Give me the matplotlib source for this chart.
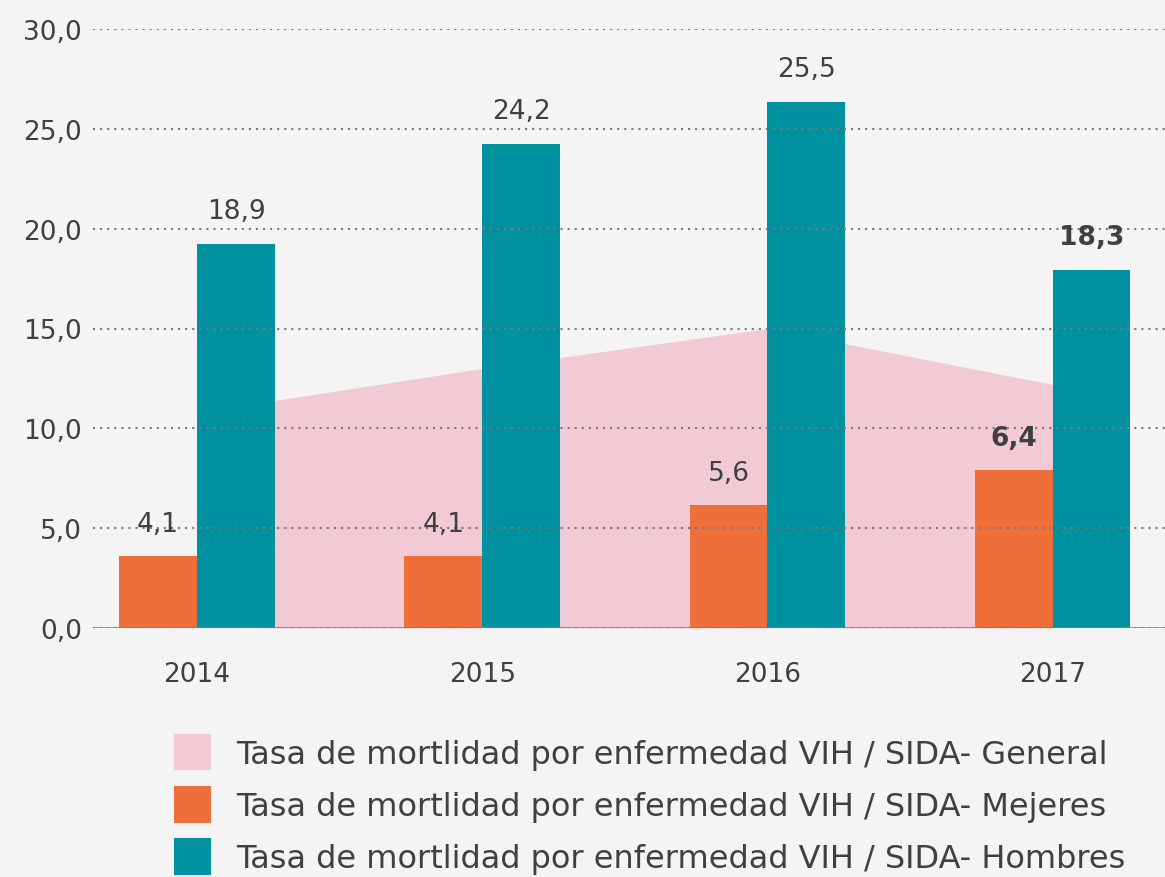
import matplotlib
matplotlib.use("Agg")
import matplotlib.pyplot as plt
from matplotlib.patches import Patch
import numpy as np

# ----------------------------
# Data
# ----------------------------
years = ["2014", "2015", "2016", "2017"]
general = [10.8, 13.0, 15.0, 12.2]          # pink area
mujeres = [3.6, 3.6, 6.15, 7.9]             # orange bars (as drawn)
hombres = [19.25, 24.25, 26.35, 17.95]      # teal bars (as drawn)
mujeres_labels = ["4,1", "4,1", "5,6", "6,4"]
hombres_labels = ["18,9", "24,2", "25,5", "18,3"]
bold_labels = [False, False, False, True]
legend_labels = [
    "Tasa de mortlidad por enfermedad VIH / SIDA- General",
    "Tasa de mortlidad por enfermedad VIH / SIDA- Mejeres",
    "Tasa de mortlidad por enfermedad VIH / SIDA- Hombres",
]
y_ticks = [0, 5, 10, 15, 20, 25, 30]

# ----------------------------
# Look
# ----------------------------
W, H = 1165, 878
BG = "#f4f4f4"
PINK = "#f2cad3"
ORANGE = "#ee6f3a"
TEAL = "#0091a0"
TEXT = "#404040"
GRID = "#7a7a7a"
BAR_W = 0.273
FONT = "DejaVu Sans"

plt.rcParams["font.family"] = [FONT]

fig = plt.figure(figsize=(W / 100, H / 100), dpi=100, facecolor=BG)
ax = fig.add_axes([93 / W, 249 / H, 1 - 93 / W, 599 / H], facecolor=BG)

x = np.arange(len(years))

# General (area)
ax.fill_between(x, general, color=PINK, linewidth=0, zorder=1)

# Bars
ax.bar(x - BAR_W / 2, mujeres, width=BAR_W, color=ORANGE, zorder=1.2)
ax.bar(x + BAR_W / 2, hombres, width=BAR_W, color=TEAL, zorder=1.2)

# Value labels
for i in range(len(years)):
    weight = "bold" if bold_labels[i] else "normal"
    ax.annotate(mujeres_labels[i], (x[i] - BAR_W / 2, mujeres[i]),
                xytext=(0, 14), textcoords="offset points",
                ha="center", va="bottom", fontsize=19, color=TEXT, fontweight=weight)
    ax.annotate(hombres_labels[i], (x[i] + BAR_W / 2, hombres[i]),
                xytext=(0, 14), textcoords="offset points",
                ha="center", va="bottom", fontsize=19, color=TEXT, fontweight=weight)

# Axes
ax.set_ylim(0, 30)
ax.set_xlim(-0.365, 3.394)
ax.set_yticks(y_ticks)
ax.set_yticklabels([f"{v:.1f}".replace(".", ",") for v in y_ticks])
ax.set_xticks(x)
ax.set_xticklabels(years)
ax.tick_params(axis="both", length=0, labelsize=19, colors=TEXT)
ax.tick_params(axis="y", pad=8)
ax.tick_params(axis="x", pad=24)
for s in ax.spines.values():
    s.set_visible(False)

ax.set_axisbelow(False)
ax.yaxis.grid(True, color=GRID, linestyle=(0, (1, 2.4)), linewidth=1.5)
ax.xaxis.grid(False)
ax.axhline(0, color="#808080", linewidth=1.8, zorder=3)

# Legend
handles = [Patch(facecolor=c, edgecolor="none") for c in (PINK, ORANGE, TEAL)]
fig.legend(handles, legend_labels, loc="upper left",
           bbox_to_anchor=(174 / W, 1 - 735 / H), frameon=False,
           fontsize=23, labelcolor=TEXT, handlelength=1.16, handleheight=1.37,
           handletextpad=0.78, labelspacing=0.5, borderpad=0, borderaxespad=0)

fig.savefig("out.png", dpi=100, facecolor=BG)
